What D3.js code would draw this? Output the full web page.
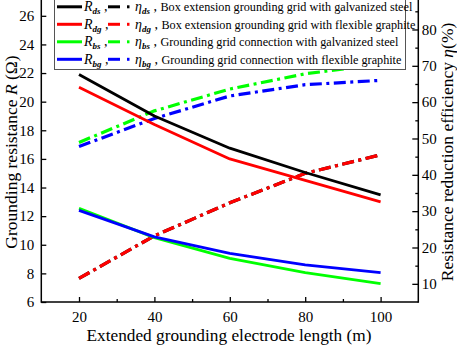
<!DOCTYPE html>
<html><head><meta charset="utf-8">
<script src="https://cdn.jsdelivr.net/npm/d3@7"></script>
<style>body{margin:0;background:#fff}</style>
</head><body><svg id="c" width="457" height="345" font-family="Liberation Serif"></svg>
<script>
const lengths = [20, 40, 60, 80, 100];
const R_ds = [21.9, 19.0, 16.75, 15.05, 13.48];
const R_dg = [21.0, 18.4, 16.0, 14.5, 13.0];
const R_bs = [12.55, 10.5, 9.05, 8.05, 7.28];
const R_bg = [12.4, 10.55, 9.4, 8.6, 8.05];
const eta_ds = [11.5, 23.2, 32.3, 40.4, 45.5];
const eta_dg = [11.5, 23.2, 32.3, 40.4, 45.5];
const eta_bs = [48.9, 57.6, 63.6, 67.8, 70.4];
const eta_bg = [47.8, 55.5, 61.7, 64.8, 66.0];
const leftTicks = [6, 8, 10, 12, 14, 16, 18, 20, 22, 24, 26];
const rightTicks = [10, 20, 30, 40, 50, 60, 70, 80];
const rightMinor = [15, 25, 35, 45, 55, 65, 75, 85];
const xTicks = [20, 40, 60, 80, 100];
const xMinor = [30, 50, 70, 90];
const seriesNames = ["ds", "dg", "bs", "bg"];
const seriesColors = ["#000000", "#ff0000", "#00ff00", "#0000ff"];
const legendTexts = ["Box extension grounding grid with galvanized steel",
  "Box extension grounding grid with flexible graphite",
  "Grounding grid connection with galvanized steel",
  "Grounding grid connection with flexible graphite"];

const FONT = "Liberation Serif";
const svg = d3.select("#c");
const X0 = 41.3, X1 = 418.3, Y0 = 302, Y1 = 1.5;
const x = d3.scaleLinear().domain([10, 110]).range([X0, X1]);
const yL = d3.scaleLinear().domain([6, 27]).range([Y0, Y1]);
const yR = d3.scaleLinear().domain([5, 87.7]).range([Y0, Y1]);

const dashDot = "12,4.5,3,4.5";
const Rs = [R_ds, R_dg, R_bs, R_bg];
const Es = [eta_ds, eta_dg, eta_bs, eta_bg];

const lineL = d3.line().x((d, i) => x(lengths[i])).y(d => yL(d));
const lineR = d3.line().x((d, i) => x(lengths[i])).y(d => yR(d));

[0, 1, 2, 3].forEach(k => {
  svg.append("path").attr("d", lineR(Es[k])).attr("fill", "none")
    .attr("stroke", seriesColors[k]).attr("stroke-width", 3.2)
    .attr("stroke-dasharray", dashDot);
});
[0, 1, 2, 3].forEach(k => {
  svg.append("path").attr("d", lineL(Rs[k])).attr("fill", "none")
    .attr("stroke", seriesColors[k]).attr("stroke-width", 2.8)
    .attr("stroke-linejoin", "round");
});

const ax = svg.append("g").attr("stroke", "#000").attr("stroke-width", 1.5);
const gB = svg.append("g").attr("transform", `translate(0,${Y0})`)
  .call(d3.axisBottom(x).tickValues(xTicks).tickSizeInner(-5).tickSizeOuter(0).tickPadding(9.5));
const gBm = svg.append("g").attr("transform", `translate(0,${Y0})`)
  .call(d3.axisBottom(x).tickValues(xMinor).tickSizeInner(-3).tickSizeOuter(0).tickFormat(""));
const gL = svg.append("g").attr("transform", `translate(${X0},0)`)
  .call(d3.axisLeft(yL).tickValues(leftTicks).tickSizeInner(-5).tickSizeOuter(0).tickPadding(7));
const gR = svg.append("g").attr("transform", `translate(${X1},0)`)
  .call(d3.axisRight(yR).tickValues(rightTicks).tickSizeInner(-6).tickSizeOuter(0).tickPadding(3.5));
const gRm = svg.append("g").attr("transform", `translate(${X1},0)`)
  .call(d3.axisRight(yR).tickValues(rightMinor).tickSizeInner(-3).tickSizeOuter(0).tickFormat(""));
[gB, gBm, gL, gR, gRm].forEach(g => {
  g.attr("font-family", FONT).attr("font-size", 15);
  g.select(".domain").remove();
  g.selectAll("line").attr("stroke", "#000").attr("stroke-width", 1.3);
  g.selectAll("text").attr("font-family", FONT).attr("font-size", 15).attr("fill", "#000");
});
ax.append("line").attr("x1", X0).attr("x2", X0).attr("y1", 0).attr("y2", Y0 + 0.75);
ax.append("line").attr("x1", X1).attr("x2", X1).attr("y1", 0).attr("y2", Y0 + 0.75);
ax.append("line").attr("x1", X0).attr("x2", X1).attr("y1", Y0).attr("y2", Y0);

const lg = svg.append("g");
lg.append("rect").attr("x", 54.5).attr("y", -1).attr("width", 351).attr("height", 70.5)
  .attr("fill", "#fff").attr("stroke", "#555").attr("stroke-width", 1);
seriesNames.forEach((s, k) => {
  const cy = 6.8 + k * 17.5;
  const c = seriesColors[k];
  lg.append("line").attr("x1", 57).attr("x2", 82).attr("y1", cy).attr("y2", cy)
    .attr("stroke", c).attr("stroke-width", 3);
  const t1 = lg.append("text").attr("x", 84).attr("y", cy + 4.5).attr("font-size", 14).attr("font-family", FONT);
  t1.append("tspan").attr("font-style", "italic").attr("font-family", FONT).text("R");
  t1.append("tspan").attr("font-style", "italic").attr("font-weight", "bold").attr("font-family", FONT).attr("font-size", 9).attr("dy", 3).text(s);
  t1.append("tspan").attr("dy", -3).attr("font-family", FONT).text(" ,");
  lg.append("line").attr("x1", 108).attr("x2", 120).attr("y1", cy).attr("y2", cy)
    .attr("stroke", c).attr("stroke-width", 3);
  lg.append("line").attr("x1", 127).attr("x2", 129.5).attr("y1", cy).attr("y2", cy)
    .attr("stroke", c).attr("stroke-width", 3);
  const t2 = lg.append("text").attr("x", 135).attr("y", cy + 4.5).attr("font-size", 14).attr("font-family", FONT);
  t2.append("tspan").attr("font-style", "italic").attr("font-family", FONT).text("η");
  t2.append("tspan").attr("font-style", "italic").attr("font-weight", "bold").attr("font-family", FONT).attr("font-size", 9).attr("dy", 3).text(s);
  t2.append("tspan").attr("dy", -3).attr("font-family", FONT).text(" , ");
  t2.append("tspan").attr("font-family", FONT).attr("font-size", 12.2).text(legendTexts[k]);
});

const tl = svg.append("text").attr("font-family", FONT).attr("transform", `translate(17,152) rotate(-90)`)
  .attr("text-anchor", "middle").attr("font-size", 17.5);
tl.append("tspan").attr("font-family", FONT).text("Grounding resistance ");
tl.append("tspan").attr("font-family", FONT).attr("font-style", "italic").text("R");
tl.append("tspan").attr("font-family", FONT).text(" (Ω)");
const tr = svg.append("text").attr("font-family", FONT).attr("transform", `translate(452.5,152) rotate(-90)`)
  .attr("text-anchor", "middle").attr("font-size", 17.5);
tr.append("tspan").attr("font-family", FONT).text("Resistance reduction efficiency ");
tr.append("tspan").attr("font-family", FONT).attr("font-style", "italic").text("η");
tr.append("tspan").attr("font-family", FONT).text("(%)");
svg.append("text").attr("font-family", FONT).attr("x", 229).attr("y", 341).attr("text-anchor", "middle")
  .attr("font-size", 17.3).text("Extended grounding electrode length (m)");
</script></body></html>
